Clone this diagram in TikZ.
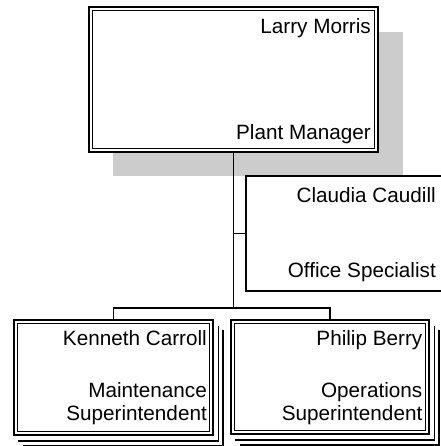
\documentclass[tikz,border=0pt]{standalone}
\usepackage{fontspec}
\setmainfont{Liberation Sans}
\usetikzlibrary{calc}
\definecolor{shadowgray}{RGB}{204,204,204}
\tikzset{
  outerbox/.style={draw, line width=2pt, fill=white, inner sep=0pt},
  innerline/.style={line width=1.3pt},
  stackline/.style={line width=1.5pt},
  wire/.style={line width=1.5pt},
  boxtext/.style={anchor=base east, inner sep=0pt, align=right, font=\fontsize{20.7}{22.5}\selectfont},
}
\begin{document}
\begin{tikzpicture}[x=1pt, y=-1pt]
\useasboundingbox (0,0) rectangle (440,446);
% plant manager with its shadow
\fill[shadowgray] (113,32) rectangle (403,176);
\node[outerbox, minimum width=289pt, minimum height=145pt] (larry) at (233.5,79.5) {};
\draw[innerline] ($(larry.north west)+(4.5,4.5)$) rectangle ($(larry.south east)+(-4.5,-4.5)$);
\node[boxtext] (larryname) at (371,34) {Larry Morris};
\node[boxtext] (larryjob) at (371,140) {Plant Manager};
% office specialist
\node[draw, line width=1.5pt, fill=white, inner sep=0pt, minimum width=210pt, minimum height=115pt] (claudia) at (351,233.5) {};
\node[boxtext] (claudianame) at (436,202) {Claudia Caudill};
\node[boxtext] (claudiajob) at (436,277) {Office Specialist};
% superintendents
\node[outerbox, minimum width=199pt, minimum height=115pt] (kenneth) at (113.5,377.5) {};
\node[outerbox, minimum width=198pt, minimum height=114pt] (philip) at (330,377) {};
\foreach \b in {kenneth,philip} {
  \draw[innerline] ($(\b.north west)+(4.5,4.5)$) rectangle ($(\b.south east)+(-4.5,-4.5)$);
  \foreach \k in {1,2}
    \draw[stackline] ($(\b.north east)+(4.5*\k,2+4.5*\k)$) -- ($(\b.south east)+(4.5*\k,5*\k)$) -- ($(\b.south west)+(5*\k,5*\k)$);
}
\node[boxtext] (kennethname) at (207,345.5) {Kenneth Carroll};
\node[boxtext] (kennethjob) at (207,397.5) {Maintenance};
\node[boxtext] (kennethjob2) at (207,420) {Superintendent};
\node[boxtext] (philipname) at (422.5,345) {Philip Berry};
\node[boxtext] (philipjob) at (422.5,397.5) {Operations};
\node[boxtext] (philipjob2) at (422.5,420) {Superintendent};
% connectors
\coordinate (trunk) at (233.5,308);
\draw[wire] (larry.south) -- (trunk);
\draw[wire] (larry.south |- claudia.west) -- (claudia.west);
\draw[wire] (kenneth.north) |- (trunk) -| (philip.north);
\end{tikzpicture}
\end{document}
